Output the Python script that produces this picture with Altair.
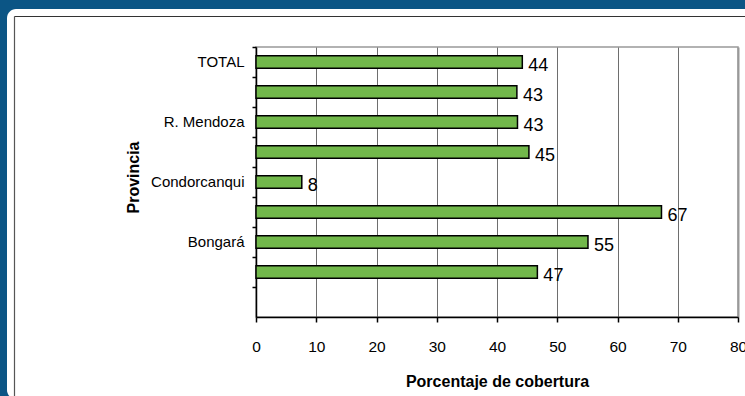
import altair as alt
import pandas as pd

# Provinces, top to bottom, and their coverage percentage
PROVINCES = ["TOTAL", "Utcubamba", "R. Mendoza", "Luya", "Condorcanqui",
             "Chachapoyas", "Bongará", "Bagua"]
COVERAGE = [44.2, 43.3, 43.4, 45.3, 7.6, 67.3, 55.1, 46.7]
# Only every other province name is printed on the axis
SHOWN_LABELS = ["TOTAL", "R. Mendoza", "Condorcanqui", "Bongará"]
X_TICKS = [0, 10, 20, 30, 40, 50, 60, 70, 80]

SANS = "'Liberation Sans', Arial, sans-serif"
BLUE = "#0B5585"
GREEN = "#72B84B"

W, H = 482, 270
PAD_L, PAD_T = 256, 47

df = pd.DataFrame({"provincia": PROVINCES, "cobertura": COVERAGE})
y_domain = PROVINCES + [""]

label_expr = "indexof([" + ",".join("'" + s + "'" for s in SHOWN_LABELS) + \
    "], datum.value) >= 0 ? datum.label : ''"

x_enc = alt.X(
    "cobertura:Q",
    scale=alt.Scale(domain=[0, 80], nice=False),
    axis=alt.Axis(
        values=X_TICKS, title="Porcentaje de cobertura",
        titleFont=SANS, titleFontSize=16, titleFontWeight="bold", titleColor="black",
        titleX=W / 2, titleY=69, titleBaseline="alphabetic",
        labelFont=SANS, labelFontSize=15.5, labelColor="black",
        labelBaseline="alphabetic", labelPadding=29, labelFlush=False,
        tickSize=5, tickColor="black", tickWidth=1.5,
        domainColor="black", domainWidth=1.5,
        grid=True,
        gridColor=alt.condition("datum.value == 80", alt.value("#999999"), alt.value("#6e6e6e")),
        gridWidth=alt.condition("datum.value == 80", alt.value(2), alt.value(1)),
    ),
)
y_enc = alt.Y(
    "provincia:N",
    scale=alt.Scale(domain=y_domain, paddingInner=0, paddingOuter=0),
    axis=alt.Axis(
        title="Provincia", titleFont=SANS, titleFontSize=16, titleFontWeight="bold",
        titleColor="black", titleAngle=270, titleBaseline="alphabetic",
        titleX=-118, titleY=130,
        labelExpr=label_expr, labelFont=SANS, labelFontSize=15, labelColor="black",
        labelPadding=8, bandPosition=0,
        tickSize=4, tickColor="black", tickWidth=1.5,
        domainColor="black", domainWidth=1.5, grid=False,
    ),
)

bars = alt.Chart(df).mark_bar(
    size=12.5, fill=GREEN, stroke="black", strokeWidth=1.5
).encode(x=x_enc, y=y_enc)

labels = alt.Chart(df).mark_text(
    align="left", baseline="alphabetic", dx=6, dy=8.5,
    font=SANS, fontSize=18, color="black"
).encode(
    x="cobertura:Q", y=alt.Y("provincia:N"),
    text=alt.Text("cobertura:Q", format=".0f"),
)

# Frame decoration around the white panel (pixel offsets from the plot origin)
one = alt.Data(values=[{}])


def box(x0, x1, y0, y1, color, **kw):
    return alt.Chart(one).mark_rect(fill=color, **kw).encode(
        x=alt.value(x0 - PAD_L), x2=alt.value(x1 - PAD_L),
        y=alt.value(y0 - PAD_T), y2=alt.value(y1 - PAD_T),
    )


def line(x0, x1, y0, y1, color, width):
    return alt.Chart(one).mark_rule(color=color, strokeWidth=width).encode(
        x=alt.value(x0 - PAD_L), x2=alt.value(x1 - PAD_L),
        y=alt.value(y0 - PAD_T), y2=alt.value(y1 - PAD_T),
    )


frame = [
    box(0, 745, 0, 9, BLUE),
    box(0, 7, 0, 396, BLUE),
    box(0, 24, 0, 24, BLUE),
    box(0, 24, 374, 396, BLUE),
    box(7, 48, 9, 48, "white", cornerRadiusTopLeft=9),
    box(7, 48, 352, 399, "white", cornerRadiusBottomLeft=9),
    line(14.5, 14.5, 16.5, 396, "#555555", 1.2),
    line(14.5, 745, 16.5, 16.5, "#333333", 1.2),
]

chart = alt.layer(*frame, bars, labels).properties(
    width=W, height=H,
    autosize=alt.AutoSizeParams(type="none"),
    padding={"left": PAD_L, "top": PAD_T, "right": 745 - PAD_L - W, "bottom": 396 - PAD_T - H},
    background="white",
).configure_view(stroke="#999999", strokeWidth=1.5)

chart.save("out.html", embed_options={"renderer": "svg", "actions": False})
